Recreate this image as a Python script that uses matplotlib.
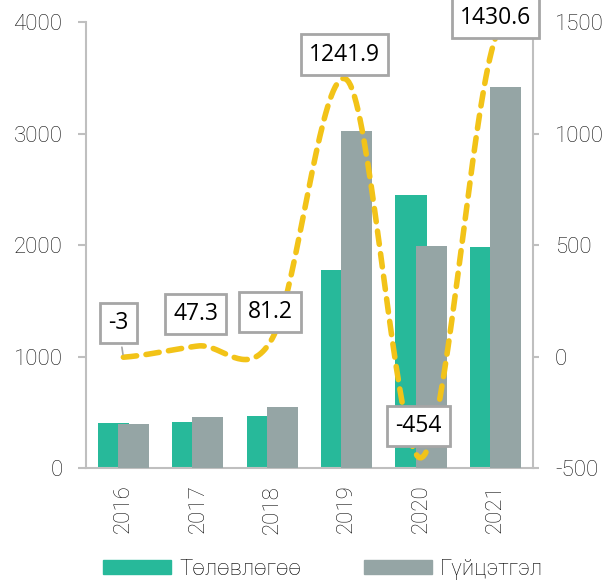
import numpy as np
import matplotlib.pyplot as plt
from matplotlib.patches import Patch

plt.rcParams['font.family'] = 'Roboto'
plt.rcParams['font.weight'] = 'light'
plt.rcParams['axes.unicode_minus'] = False

years = ['2016', '2017', '2018', '2019', '2020', '2021']
plan = [400, 410, 465, 1780, 2450, 1985]
actual = [395, 455, 545, 3020, 1990, 3420]
diff = [-3, 47.3, 81.2, 1241.9, -454, 1430.6]
diff_labels = ['-3', '47.3', '81.2', '1241.9', '-454', '1430.6']

teal = '#27B99A'
gray = '#95A5A5'
yellow = '#F2C318'
spine_c = '#BFBFBF'
txt_c = '#111111'


def catmull(x, y, n=40):
    # smooth curve through the points like excel's smoothed line
    x = np.asarray(x, float)
    y = np.asarray(y, float)
    px = np.concatenate([[2 * x[0] - x[1]], x, [2 * x[-1] - x[-2]]])
    py = np.concatenate([[y[0]], y, [y[-1]]])
    xs, ys = [], []
    t = np.linspace(0, 1, n)
    for i in range(1, len(px) - 2):
        for p, out in ((px, xs), (py, ys)):
            p0, p1, p2, p3 = p[i - 1], p[i], p[i + 1], p[i + 2]
            out.extend(0.5 * ((2 * p1) + (-p0 + p2) * t
                              + (2 * p0 - 5 * p1 + 4 * p2 - p3) * t ** 2
                              + (-p0 + 3 * p1 - 3 * p2 + p3) * t ** 3))
    return np.array(xs), np.array(ys)


fig = plt.figure(figsize=(6.11, 5.80), dpi=100)
ax = fig.add_axes([0.141, 0.193, 0.731, 0.769])
x = np.arange(len(years))
w = 0.42
ax.bar(x - 0.135, plan, w, color=teal, zorder=2)
ax.bar(x + 0.135, actual, w, color=gray, zorder=3)
ax.set_ylim(0, 4000)
ax.set_xlim(-0.5, 5.5)
ax.set_yticks([0, 1000, 2000, 3000, 4000])
ax.set_xticks(x)
ax.set_xticklabels(years, rotation=90)
for s in ['top', 'right']:
    ax.spines[s].set_visible(False)
for s in ['left', 'bottom']:
    ax.spines[s].set_color(spine_c)
    ax.spines[s].set_linewidth(1.5)
ax.tick_params(axis='y', colors=spine_c, labelcolor=txt_c, labelsize=16, length=6, width=1.5, pad=11)
ax.tick_params(axis='x', length=0, labelcolor=txt_c, labelsize=16, pad=12)

ax2 = ax.twinx()
ax2.set_ylim(-500, 1500)
ax2.set_yticks([-500, 0, 500, 1000, 1500])
for s in ['top', 'left', 'bottom']:
    ax2.spines[s].set_visible(False)
ax2.spines['right'].set_color(spine_c)
ax2.spines['right'].set_linewidth(1.5)
ax2.tick_params(axis='y', colors=spine_c, labelcolor=txt_c, labelsize=16, length=4, width=1.5, pad=12)

sx, sy = catmull(x, diff)
ax2.plot(sx, sy, color=yellow, lw=4, ls=(0, (2.4, 1.7)), dash_capstyle='round',
         solid_capstyle='round', zorder=5, clip_on=False)

# label offsets in points, box centre relative to the point
offsets = [(-3.6, 24.5), (-1.5, 23), (-1.5, 19), (-1.5, 18), (-2, 23), (0, 14)]
for xi, v, lab, (dx, dy) in zip(x, diff, diff_labels, offsets):
    ax2.annotate(lab, (xi, v), xytext=(dx, dy), textcoords='offset points',
                 ha='center', va='center', fontsize=16.5, family='Open Sans',
                 fontweight='normal', color='black', zorder=6,
                 bbox=dict(boxstyle='square,pad=0.36', fc='white', ec='#A6A6A6', lw=2),
                 arrowprops=dict(arrowstyle='-', color='#A6A6A6', lw=1.2) if xi == 0 else None)

handles = [Patch(color=teal, label='Төлөвлөгөө'), Patch(color=gray, label='Гүйцэтгэл')]
fig.legend(handles=handles, loc='center', bbox_to_anchor=(0.529, 0.018), ncol=2,
           frameon=False, fontsize=16, handlelength=3.06, handleheight=0.6,
           columnspacing=2.85, handletextpad=0.35, borderpad=0)

fig.savefig('out.png', dpi=100)
